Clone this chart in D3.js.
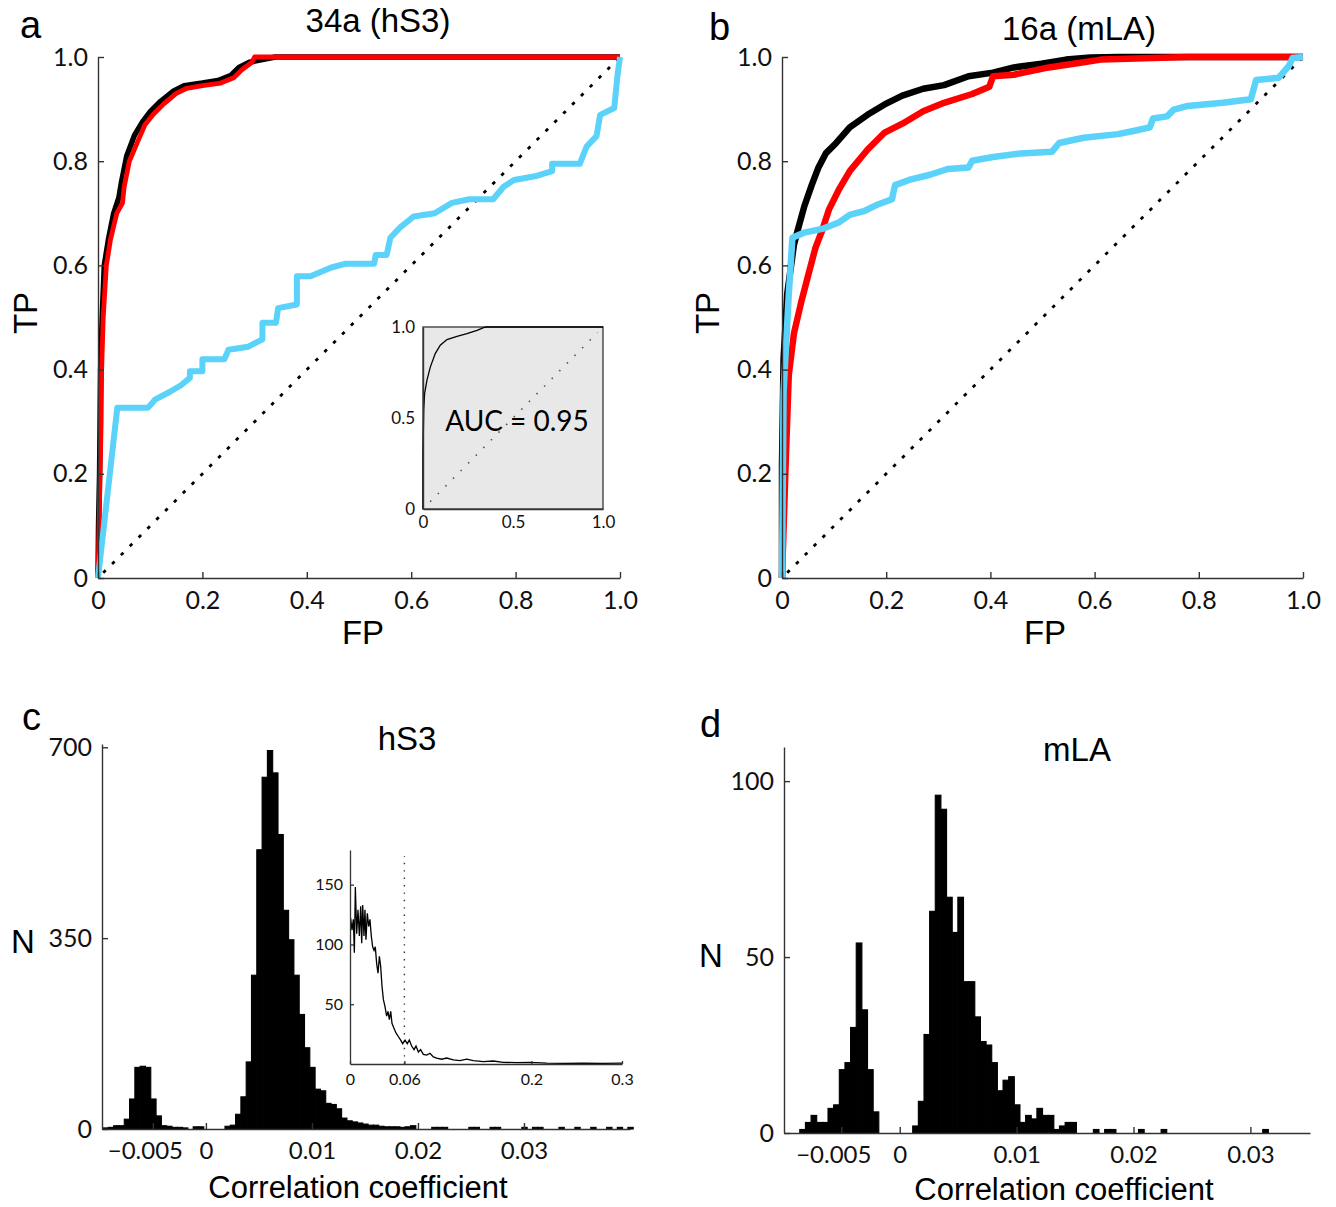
<!DOCTYPE html>
<html><head><meta charset="utf-8">
<script src="https://cdn.jsdelivr.net/npm/d3@7"></script>
<style>body{margin:0;background:#fff}</style>
</head><body>
<svg id="fig" width="1336" height="1207"></svg>
<script>
// ===== DATA =====
// Panel a: ROC curves [FP, TP]
const rocA_black = [[0,0],[0.001,0.1],[0.003,0.2],[0.004,0.3],[0.005,0.4],[0.008,0.5],[0.012,0.6],[0.02,0.65],[0.03,0.7],[0.04,0.73],[0.045,0.76],[0.055,0.81],[0.07,0.85],[0.085,0.875],[0.1,0.895],[0.12,0.915],[0.145,0.935],[0.165,0.945],[0.2,0.95],[0.23,0.955],[0.255,0.965],[0.27,0.98],[0.29,0.99],[0.34,1.0],[1,1]];
const rocA_red = [[0,0],[0.002,0.1],[0.004,0.2],[0.006,0.3],[0.007,0.4],[0.01,0.5],[0.016,0.6],[0.024,0.65],[0.036,0.7],[0.047,0.72],[0.05,0.75],[0.06,0.8],[0.077,0.84],[0.09,0.87],[0.106,0.89],[0.126,0.91],[0.15,0.93],[0.17,0.94],[0.2,0.945],[0.235,0.95],[0.26,0.96],[0.275,0.975],[0.295,0.99],[0.30,1.0],[1,1]];
const rocA_cyan = [[0,0],[0.037,0.327],[0.096,0.327],[0.11,0.343],[0.137,0.357],[0.159,0.37],[0.176,0.384],[0.176,0.397],[0.2,0.397],[0.2,0.42],[0.242,0.42],[0.25,0.438],[0.288,0.444],[0.315,0.458],[0.315,0.49],[0.341,0.49],[0.345,0.518],[0.381,0.525],[0.381,0.579],[0.407,0.579],[0.447,0.596],[0.473,0.603],[0.529,0.603],[0.532,0.62],[0.553,0.62],[0.56,0.653],[0.579,0.673],[0.605,0.694],[0.645,0.7],[0.678,0.72],[0.711,0.727],[0.757,0.727],[0.777,0.751],[0.797,0.764],[0.837,0.771],[0.87,0.781],[0.87,0.795],[0.923,0.795],[0.936,0.828],[0.955,0.848],[0.962,0.889],[0.989,0.902],[0.995,0.963],[1,1]];
// Panel a inset ROC
const insetA_roc = [[0,0],[0,0.307],[0.004,0.544],[0.009,0.635],[0.022,0.708],[0.041,0.781],[0.068,0.854],[0.096,0.9],[0.133,0.931],[0.189,0.949],[0.244,0.964],[0.3,0.982],[0.337,0.996],[0.35,1],[1,1]];
const insetA_text = "AUC = 0.95";
// Panel b: ROC curves
const rocB_black = [[0,0],[0,0.22],[0.003,0.42],[0.01,0.545],[0.023,0.64],[0.03,0.667],[0.043,0.714],[0.057,0.754],[0.07,0.788],[0.084,0.815],[0.104,0.835],[0.13,0.865],[0.164,0.889],[0.197,0.909],[0.231,0.926],[0.271,0.939],[0.311,0.946],[0.358,0.963],[0.405,0.97],[0.445,0.98],[0.498,0.987],[0.545,0.995],[0.592,0.999],[0.645,1.0],[1,1]];
const rocB_red = [[0,0],[0.007,0.22],[0.013,0.39],[0.023,0.47],[0.037,0.53],[0.05,0.58],[0.064,0.633],[0.077,0.667],[0.09,0.707],[0.11,0.747],[0.13,0.781],[0.164,0.822],[0.197,0.855],[0.231,0.872],[0.271,0.896],[0.311,0.912],[0.365,0.929],[0.398,0.943],[0.405,0.963],[0.445,0.966],[0.512,0.98],[0.579,0.99],[0.612,0.995],[0.712,0.998],[0.779,1.0],[1,1]];
const rocB_cyan = [[0,0],[0.003,0.357],[0.013,0.545],[0.02,0.653],[0.043,0.663],[0.077,0.67],[0.11,0.683],[0.13,0.697],[0.157,0.704],[0.184,0.717],[0.211,0.727],[0.217,0.754],[0.244,0.764],[0.284,0.774],[0.318,0.785],[0.358,0.788],[0.365,0.801],[0.405,0.808],[0.458,0.815],[0.518,0.818],[0.532,0.835],[0.579,0.845],[0.645,0.852],[0.679,0.859],[0.706,0.865],[0.712,0.882],[0.739,0.886],[0.752,0.899],[0.779,0.906],[0.846,0.912],[0.9,0.919],[0.91,0.956],[0.953,0.96],[0.973,0.983],[0.98,0.998],[1,1]];
const rocTicks = [0,0.2,0.4,0.6,0.8,1.0];
const rocTickLabels = ["0","0.2","0.4","0.6","0.8","1.0"];
const insetATicks = [0,0.5,1.0];
const insetATickLabels = ["0","0.5","1.0"];
// Panel c: histogram (bin start, bin width, counts)
const histC_start = -0.0097, histC_width = 0.0005;
const histC_counts = [2,3,6,6,18,55,113,115,113,55,24,6,5,3,3,2,0,4,4,0,
  0,0,0,5,7,27,59,123,282,512,645,694,653,540,401,347,282,210,149,113,
  73,70,47,45,37,20,15,13,11,9,7,7,5,4,4,4,3,4,6,0,
  0,0,3,3,3,0,0,0,0,3,3,0,0,3,3,0,0,0,0,3,
  0,3,3,0,0,0,3,0,0,3,0,0,3,0,0,3,0,3,0,3];
const histC_yTicks = [0,350,700];
const histC_yTickLabels = ["0","350","700"];
const histXTicks = [-0.005,0,0.01,0.02,0.03];
const histXTickLabels = ["\u22120.005","0","0.01","0.02","0.03"];
// Panel c inset: distribution [x, N]
const insetC_line = [[0.0007,122],[0.0022,112],[0.0037,121],[0.0048,93],[0.0059,148],[0.0074,109],[0.0088,129],[0.0103,107],[0.0118,132],[0.0129,101],[0.014,133],[0.0154,107],[0.0165,129],[0.0176,104],[0.0191,126],[0.0206,115],[0.022,121],[0.0235,107],[0.025,98],[0.0265,95],[0.0279,98],[0.0294,84],[0.0309,76],[0.0324,90],[0.0338,82],[0.0353,65],[0.0368,54],[0.0386,48],[0.0404,40],[0.0419,44],[0.0434,37],[0.0449,44],[0.0463,34],[0.0485,30],[0.0507,26],[0.0533,23],[0.0559,20],[0.0581,17],[0.0607,20],[0.0632,17],[0.0654,20],[0.068,15],[0.0706,12],[0.0728,15],[0.0754,10],[0.0779,12],[0.0809,8],[0.0846,7.5],[0.0882,9],[0.0919,6],[0.0956,5],[0.1011,4],[0.1066,5],[0.114,3.4],[0.1213,2.8],[0.1287,4],[0.136,2.8],[0.147,2],[0.158,2.5],[0.169,1.4],[0.184,1.1],[0.1985,1.4],[0.217,0.8],[0.235,0.6],[0.257,0.8],[0.279,0.6],[0.3,0.8]];
const insetC_threshold = 0.06;
const insetC_xTicks = [0,0.06,0.2,0.3];
const insetC_xTickLabels = ["0","0.06","0.2","0.3"];
const insetC_yTicks = [50,100,150];
// Panel d: histogram
const histD_start = -0.00855, histD_width = 0.000483;
const histD_counts = [1,3,5,3,3,7,8,18,20,30,54,35,18,6,0,0,0,0,0,0,
  2,9,28,63,96,92,67,57,67,43,43,33,26,25,20,12,15,16,8,3,
  5,4,7,5,5,1,2,3,3,0,0,0,1,0,1,1,0,0,0,0,
  1,0,0,0,1,0,0,0,0,0,0,0,0,0,0,0,0,0,0,0,0,0,1];
const histD_yTicks = [0,50,100];
const histD_yTickLabels = ["0","50","100"];

// ===== DRAWING =====
const svg = d3.select("#fig");
const FONT = "'Liberation Sans', Arial, Helvetica, sans-serif";
const TFONT = "Lato, 'Open Sans', sans-serif";
const AX = "#333";
const CYAN = "#5ad2fa";

function drawAxis(gen, tx, ty, fs, sw) {
  const g = svg.append("g").attr("transform", `translate(${tx},${ty})`).call(gen);
  g.attr("font-size", null).attr("font-family", null);
  g.select(".domain").attr("stroke", AX).attr("stroke-width", sw || 1.4);
  g.selectAll(".tick line").attr("stroke", AX).attr("stroke-width", sw || 1.4);
  g.selectAll(".tick text").attr("font-family", TFONT).attr("font-size", fs).attr("fill", "#111");
  return g;
}
function txt(x, y, s, size, anchor, rot) {
  const t = svg.append("text").attr("font-family", FONT).attr("font-size", size)
    .attr("fill", "#000").attr("text-anchor", anchor || "middle").text(s);
  if (rot) t.attr("transform", `translate(${x},${y}) rotate(${rot})`);
  else t.attr("x", x).attr("y", y);
  return t;
}

function rocPanel(xr, yr, curves, widths) {
  const x = d3.scaleLinear([0, 1], xr);
  const y = d3.scaleLinear([0, 1], yr);
  svg.append("line").attr("x1", x(0.01)).attr("y1", y(0.01)).attr("x2", x(1)).attr("y2", y(1))
    .attr("stroke", "#000").attr("stroke-width", 2.8).attr("stroke-dasharray", "3.5,9");
  const line = d3.line().x(d => x(d[0])).y(d => y(d[1]));
  curves.forEach((c, i) => {
    svg.append("path").datum(c.data).attr("d", line).attr("fill", "none")
      .attr("stroke", c.color).attr("stroke-width", widths[i]).attr("stroke-linejoin", "round");
  });
  drawAxis(d3.axisBottom(x).tickValues(rocTicks).tickFormat((d, i) => rocTickLabels[i])
    .tickSizeInner(-6).tickSizeOuter(0).tickPadding(13), 0, yr[0], 25);
  drawAxis(d3.axisLeft(y).tickValues(rocTicks).tickFormat((d, i) => rocTickLabels[i])
    .tickSizeInner(-6).tickSizeOuter(0).tickPadding(10), xr[0], 0, 25);
  return {x, y};
}

// Panel a
rocPanel([98, 620], [578, 57], [
  {data: rocA_black, color: "#000"},
  {data: rocA_red, color: "#ff0000"},
  {data: rocA_cyan, color: CYAN}
], [5.5, 4.8, 6]);

// Panel a inset
{
  const x = d3.scaleLinear([0, 1], [423, 603]);
  const y = d3.scaleLinear([0, 1], [509, 327]);
  svg.append("rect").attr("x", x(0)).attr("y", y(1)).attr("width", x(1) - x(0)).attr("height", y(0) - y(1))
    .attr("fill", "#e8e8e8").attr("stroke", "#444").attr("stroke-width", 1.4);
  svg.append("line").attr("x1", x(0.04)).attr("y1", y(0.04)).attr("x2", x(0.97)).attr("y2", y(0.97))
    .attr("stroke", "#555").attr("stroke-width", 1.6).attr("stroke-dasharray", "1.5,9.3");
  svg.append("path").datum(insetA_roc).attr("d", d3.line().x(d => x(d[0])).y(d => y(d[1])))
    .attr("fill", "none").attr("stroke", "#000").attr("stroke-width", 1.3);
  drawAxis(d3.axisBottom(x).tickValues(insetATicks).tickFormat((d, i) => insetATickLabels[i])
    .tickSize(0).tickPadding(7), 0, 509, 17, 0);
  drawAxis(d3.axisLeft(y).tickValues(insetATicks).tickFormat((d, i) => insetATickLabels[i])
    .tickSize(0).tickPadding(8), 423, 0, 17, 1.4);
  svg.append("text").attr("x", 517).attr("y", 431).attr("text-anchor", "middle")
    .attr("font-family", TFONT).attr("font-size", 28).attr("fill", "#000").text(insetA_text);
}

// Panel b
rocPanel([782, 1303], [578, 57], [
  {data: rocB_black, color: "#000"},
  {data: rocB_red, color: "#ff0000"},
  {data: rocB_cyan, color: CYAN}
], [6.5, 6.5, 6.5]);

// Histogram helper
function histPanel(xd, xr, yd, yr, start, width, counts, yTicks, yLabels) {
  const x = d3.scaleLinear(xd, xr);
  const y = d3.scaleLinear(yd, yr);
  const bins = counts.map((c, i) => ({x0: start + i * width, x1: start + (i + 1) * width, c}))
    .filter(b => b.c > 0);
  svg.append("g").selectAll("rect").data(bins).join("rect")
    .attr("x", d => x(d.x0)).attr("width", d => x(d.x1) - x(d.x0))
    .attr("y", d => y(d.c)).attr("height", d => y(0) - y(d.c))
    .attr("fill", "#000").attr("stroke", "#000").attr("stroke-width", 1.1);
  const gx = drawAxis(d3.axisBottom(x).tickValues(histXTicks).tickFormat((d, i) => histXTickLabels[i])
    .tickSizeInner(-6).tickSizeOuter(0).tickPadding(13), 0, yr[0], 24);
  gx.selectAll(".tick text").attr("dx", (d) => d < 0 ? -8 : 0);
  drawAxis(d3.axisLeft(y).tickValues(yTicks).tickFormat((d, i) => yLabels[i])
    .tickSizeInner(-6).tickSizeOuter(0).tickPadding(10), xr[0], 0, 25);
  return {x, y};
}

// Panel c
histPanel([-0.0098, 0.04], [102, 630], [0, 706], [1129, 744], histC_start, histC_width, histC_counts,
  histC_yTicks, histC_yTickLabels);

// Panel c inset
{
  const x = d3.scaleLinear([0, 0.3], [350, 622]);
  const y = d3.scaleLinear([0, 179], [1064, 850]);
  svg.append("line").attr("x1", x(insetC_threshold)).attr("x2", x(insetC_threshold))
    .attr("y1", y(0)).attr("y2", y(174)).attr("stroke", "#333").attr("stroke-width", 1.4)
    .attr("stroke-dasharray", "1.4,6");
  svg.append("path").datum(insetC_line).attr("d", d3.line().x(d => x(d[0])).y(d => y(d[1])))
    .attr("fill", "none").attr("stroke", "#000").attr("stroke-width", 1.3);
  drawAxis(d3.axisBottom(x).tickValues(insetC_xTicks).tickFormat((d, i) => insetC_xTickLabels[i])
    .tickSizeInner(-3).tickSizeOuter(0).tickPadding(10), 0, 1064, 16, 1.3);
  drawAxis(d3.axisLeft(y).tickValues(insetC_yTicks).tickFormat(d => String(d))
    .tickSizeInner(-4).tickSizeOuter(0).tickPadding(7), 350, 0, 16, 1.3);
}

// Panel d
histPanel([-0.0099, 0.0351], [784, 1310], [0, 109.7], [1133, 747], histD_start, histD_width, histD_counts,
  histD_yTicks, histD_yTickLabels);

// Texts
txt(20, 38, "a", 38, "start");
txt(709, 40, "b", 38, "start");
txt(22, 730, "c", 38, "start");
txt(700, 737, "d", 38, "start");
txt(378, 32, "34a (hS3)", 33);
txt(1079, 40, "16a (mLA)", 33);
txt(37, 313, "TP", 33, "middle", -90);
txt(719, 313, "TP", 33, "middle", -90);
txt(363, 644, "FP", 33);
txt(1045, 644, "FP", 33);
txt(407, 750, "hS3", 33);
txt(1077, 761, "mLA", 33);
txt(11, 953, "N", 33, "start");
txt(699, 967, "N", 33, "start");
txt(358, 1198, "Correlation coefficient", 31);
txt(1064, 1200, "Correlation coefficient", 31);
</script>
</body></html>
